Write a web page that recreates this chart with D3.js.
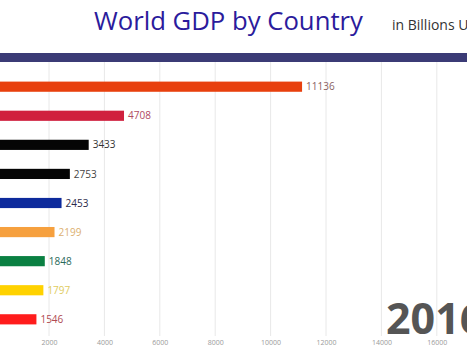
<!DOCTYPE html>
<html><head><meta charset="utf-8">
<script src="https://cdn.jsdelivr.net/npm/d3@7"></script>
<style>html,body{margin:0;padding:0;background:#fff;overflow:hidden}</style>
</head><body>
<svg id="chart" width="467" height="350"></svg>
<script>
const categories = ["China","Japan","Germany","United Kingdom","France","India","Italy","Brazil","Canada"];
const values = [11136, 4708, 3433, 2753, 2453, 2199, 1848, 1797, 1546];
const barColors = ["#e8400e","#d0203e","#050505","#050505","#0d2a9c","#f6a03e","#0a8042","#ffd200","#ff1c1c"];
const labelColors = ["#8a6262","#b04a62","#333333","#444444","#2a2a4a","#dcb070","#2a6a5a","#e0cc60","#b04a52"];
const tickValues = [2000,4000,6000,8000,10000,12000,14000,16000];
const yearLabel = "2016";

const svg = d3.select("#chart");
const x = d3.scaleLinear().domain([0, 2000]).range([-6.4, 49]);
const y = d3.scaleBand().domain(categories).range([72, 334]).paddingInner(0.65).paddingOuter(0.33);

// gridlines
svg.append("g").selectAll("line").data(tickValues).join("line")
  .attr("x1", d => x(d)).attr("x2", d => x(d))
  .attr("y1", 62).attr("y2", 336)
  .attr("stroke", "#e8e8e8").attr("stroke-width", 1);

// axis
const axis = d3.axisBottom(x).tickValues(tickValues).tickSize(0).tickPadding(0).tickFormat(d3.format("d"));
const ax = svg.append("g").attr("transform", "translate(0,340)").call(axis);
ax.select(".domain").remove();
ax.selectAll("text").attr("fill", "#9a9a9a").style("font-family", "Open Sans, sans-serif").style("font-size", "7px");

// top band
svg.append("rect").attr("x", 0).attr("y", 53).attr("width", 467).attr("height", 9).attr("fill", "#3b3b76");

// bars
svg.append("g").selectAll("rect").data(values).join("rect")
  .attr("x", x(0)).attr("y", (d, i) => y(categories[i]))
  .attr("width", d => x(d) - x(0)).attr("height", y.bandwidth())
  .attr("fill", (d, i) => barColors[i]);

svg.append("g").selectAll("text").data(values).join("text")
  .attr("x", d => x(d) + 4).attr("y", (d, i) => y(categories[i]) + y.bandwidth() / 2)
  .attr("dy", "0.36em")
  .attr("fill", (d, i) => labelColors[i])
  .style("font-family", "Open Sans, sans-serif").style("font-size", "10px")
  .text(d => d);

// title
svg.append("text").attr("x", 94).attr("y", 30)
  .attr("fill", "#2b1b9c").style("font-family", "Open Sans, sans-serif").style("font-size", "25.7px")
  .text("World GDP by Country");
svg.append("text").attr("x", 392).attr("y", 30)
  .attr("fill", "#333").style("font-family", "Open Sans, sans-serif").style("font-size", "14px")
  .text("in Billions USD");

// year
svg.append("text").attr("x", 386).attr("y", 334)
  .attr("fill", "#555").style("font-family", "Open Sans, sans-serif").style("font-weight", "bold").style("font-size", "43px")
  .text(yearLabel);
</script>
</body></html>
